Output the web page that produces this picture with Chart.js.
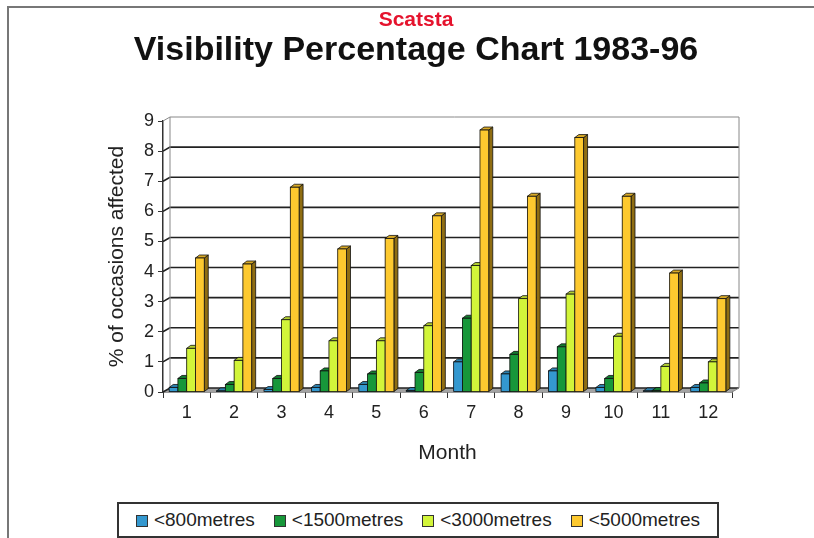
<!DOCTYPE html>
<html lang="en">
<head>
    <meta charset="UTF-8">
    <title>Visibility Percentage Chart 1983-96</title>
    <script src="https://cdn.jsdelivr.net/npm/chart.js"></script>
    <style>
        body {
            margin: 0;
            background: #fff;
            font-family: "Liberation Sans", Arial, sans-serif;
        }
        .wrap {
            position: relative;
            width: 814px;
            height: 538px;
            overflow: hidden;
        }
        .frame {
            position: absolute;
            left: 7px;
            top: 6px;
            width: 900px;
            height: 700px;
            border-left: 2px solid #777;
            border-top: 2px solid #777;
        }
        .legend {
            position: absolute;
            left: 117px;
            top: 502px;
            width: 598px;
            height: 32px;
            border: 2px solid #333;
            display: flex;
            align-items: center;
            justify-content: center;
            gap: 19px;
            font-size: 19px;
            color: #222;
            background: #fff;
        }
        .legend span.sw {
            display: inline-block;
            width: 10px;
            height: 10px;
            border: 1px solid #333;
            margin-right: 6px;
            vertical-align: -1px;
        }
    </style>
</head>
<body>
    <div class="wrap">
        <div class="frame"></div>
        <canvas id="visChart"></canvas>
        <div class="legend" id="legend"></div>
    </div>

    <script>
        // data
        const months = ["1", "2", "3", "4", "5", "6", "7", "8", "9", "10", "11", "12"];
        const under800 = [0.15, 0.02, 0.08, 0.15, 0.25, 0.05, 1.0, 0.6, 0.7, 0.15, 0.02, 0.15];
        const under1500 = [0.45, 0.25, 0.45, 0.7, 0.6, 0.65, 2.45, 1.25, 1.5, 0.45, 0.05, 0.3];
        const under3000 = [1.45, 1.05, 2.4, 1.7, 1.7, 2.2, 4.2, 3.1, 3.25, 1.85, 0.85, 1.0];
        const under5000 = [4.45, 4.25, 6.8, 4.75, 5.1, 5.85, 8.7, 6.5, 8.45, 6.5, 3.95, 3.1];
        const seriesNames = ["<800metres", "<1500metres", "<3000metres", "<5000metres"];
        const yTicks = [0, 1, 2, 3, 4, 5, 6, 7, 8, 9];

        const colors = ["#3498cf", "#17973a", "#d2f53a", "#fdc92f"];
        const sides = ["#1d5a7c", "#0c5420", "#7d9322", "#8f6d12"];
        const tops = ["#2c80ae", "#137c30", "#b3cf30", "#d9aa26"];

        const DX = 7, DY = 4;   // back wall offset
        const BX = 4, BY = 3;   // bar depth

        const fontFam = '"Liberation Sans", Arial, sans-serif';

        const threeD = {
            id: "threeD",
            beforeDatasetsDraw(chart) {
                const { ctx, chartArea: a, scales: { y } } = chart;
                const y0 = y.getPixelForValue(0);
                ctx.save();
                // floor
                ctx.fillStyle = "#a3a3a3";
                ctx.beginPath();
                ctx.moveTo(a.left, y0);
                ctx.lineTo(a.right, y0);
                ctx.lineTo(a.right + DX, y0 - DY);
                ctx.lineTo(a.left + DX, y0 - DY);
                ctx.closePath();
                ctx.fill();
                // back wall gridlines
                yTicks.forEach((v, i) => {
                    const py = y.getPixelForValue(v);
                    ctx.strokeStyle = i === yTicks.length - 1 ? "#888" : "#222";
                    ctx.lineWidth = i === yTicks.length - 1 ? 1 : 1.6;
                    ctx.beginPath();
                    ctx.moveTo(a.left, py);
                    ctx.lineTo(a.left + DX, py - DY);
                    ctx.lineTo(a.right + DX, py - DY);
                    ctx.stroke();
                });
                ctx.strokeStyle = "#888";
                ctx.lineWidth = 1;
                ctx.beginPath();
                ctx.moveTo(a.left + DX, a.top - DY);
                ctx.lineTo(a.left + DX, y0 - DY);
                ctx.moveTo(a.right + DX, a.top - DY);
                ctx.lineTo(a.right + DX, y0 - DY);
                ctx.moveTo(a.right, y0);
                ctx.lineTo(a.right + DX, y0 - DY);
                ctx.stroke();
                ctx.restore();
            },
            afterDatasetsDraw(chart) {
                const ctx = chart.ctx;
                ctx.save();
                ctx.lineWidth = 0.8;
                ctx.strokeStyle = "#111";
                months.forEach((m, i) => {
                    chart.data.datasets.forEach((ds, d) => {
                        const el = chart.getDatasetMeta(d).data[i];
                        const l = el.x - el.width / 2, r = el.x + el.width / 2;
                        const t = Math.min(el.y, el.base - 0.6), b = el.base;
                        // side
                        ctx.fillStyle = sides[d];
                        ctx.beginPath();
                        ctx.moveTo(r, t);
                        ctx.lineTo(r + BX, t - BY);
                        ctx.lineTo(r + BX, b - BY);
                        ctx.lineTo(r, b);
                        ctx.closePath();
                        ctx.fill();
                        ctx.stroke();
                        // top
                        ctx.fillStyle = tops[d];
                        ctx.beginPath();
                        ctx.moveTo(l, t);
                        ctx.lineTo(l + BX, t - BY);
                        ctx.lineTo(r + BX, t - BY);
                        ctx.lineTo(r, t);
                        ctx.closePath();
                        ctx.fill();
                        ctx.stroke();
                        // front
                        ctx.fillStyle = colors[d];
                        ctx.fillRect(l, t, r - l, b - t);
                        ctx.strokeRect(l, t, r - l, b - t);
                    });
                });
                ctx.restore();
            }
        };

        const ctx = document.getElementById("visChart").getContext("2d");
        new Chart(ctx, {
            type: "bar",
            data: {
                labels: months,
                datasets: [under800, under1500, under3000, under5000].map((vals, k) => ({
                    label: seriesNames[k],
                    data: vals,
                    backgroundColor: colors[k],
                    borderWidth: 0
                }))
            },
            options: {
                responsive: true,
                maintainAspectRatio: false,
                animation: false,
                categoryPercentage: 0.74,
                barPercentage: 1.0,
                layout: { padding: { left: 18, right: 0, top: 0, bottom: 0 } },
                plugins: {
                    legend: { display: false },
                    tooltip: { enabled: false },
                    title: {
                        display: true,
                        text: "Scatsta",
                        color: "#e5132d",
                        font: { family: fontFam, size: 21, weight: "bold", lineHeight: 1 },
                        padding: { top: 10, bottom: 0 }
                    },
                    subtitle: {
                        display: true,
                        text: "Visibility Percentage Chart 1983-96",
                        color: "#111",
                        font: { family: fontFam, size: 34, weight: "bold", lineHeight: 1 },
                        padding: { top: 3, bottom: 53 }
                    }
                },
                scales: {
                    x: {
                        grid: { display: true, drawOnChartArea: false, tickLength: 6, color: "#333", offset: true },
                        border: { color: "#333", width: 1.5 },
                        ticks: { color: "#222", font: { family: fontFam, size: 18 }, padding: 4 },
                        title: {
                            display: true,
                            text: "Month",
                            color: "#222",
                            font: { family: fontFam, size: 21 },
                            padding: { top: 0, bottom: 72 }
                        },
                        afterFit(s) { s.height = 146; }
                    },
                    y: {
                        min: 0,
                        max: 9,
                        ticks: { stepSize: 1, color: "#222", font: { family: fontFam, size: 18 }, padding: 4 },
                        grid: { display: true, drawOnChartArea: false, tickLength: 5, color: "#333" },
                        border: { color: "#333", width: 1.5 },
                        title: {
                            display: true,
                            text: "% of occasions affected",
                            color: "#222",
                            font: { family: fontFam, size: 21 },
                            padding: { top: 87, bottom: 0 }
                        },
                        afterFit(s) { s.width = 145; }
                    },
                    y2: {
                        position: "right",
                        grid: { display: false },
                        border: { display: false },
                        ticks: { display: false },
                        afterFit(s) { s.width = 82; }
                    }
                }
            },
            plugins: [threeD]
        });

        // legend box below the chart
        const legend = document.getElementById("legend");
        seriesNames.forEach((name, k) => {
            const item = document.createElement("span");
            const sw = document.createElement("span");
            sw.className = "sw";
            sw.style.background = colors[k];
            item.appendChild(sw);
            item.appendChild(document.createTextNode(name));
            legend.appendChild(item);
        });
    </script>
</body>
</html>
